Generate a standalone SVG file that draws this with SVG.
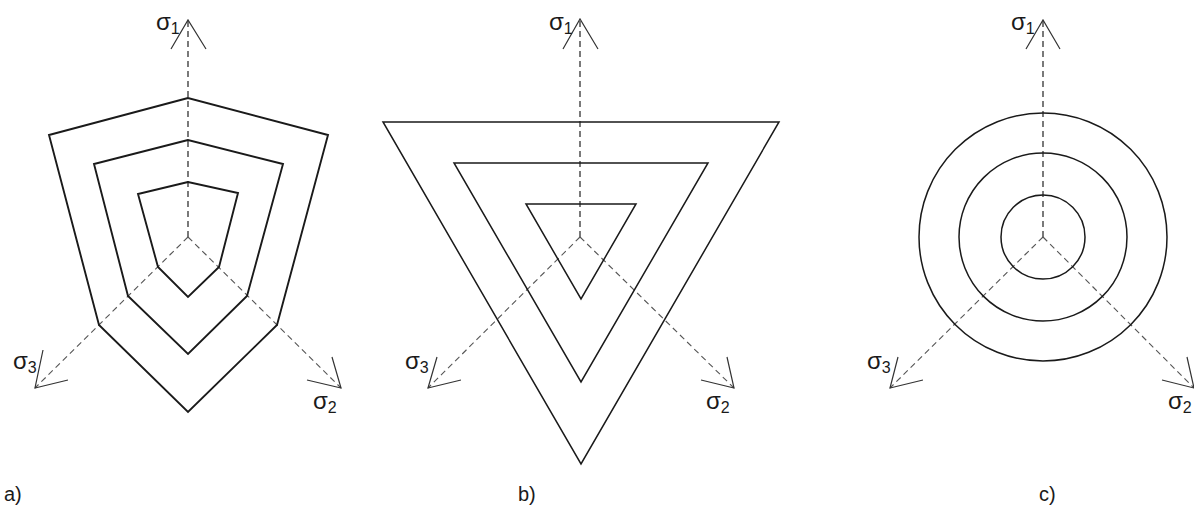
<svg xmlns="http://www.w3.org/2000/svg" width="1194" height="512" viewBox="0 0 1194 512">
<style>
.shape{fill:none;stroke:#1a1a1a;stroke-width:1.5;stroke-linejoin:miter}
.thick{stroke-width:1.9}
.ax1{fill:none;stroke:#222;stroke-width:1.2;stroke-dasharray:6 4}
.ax2{fill:none;stroke:#555;stroke-width:1.1;stroke-dasharray:6 4}
.head{fill:none;stroke:#333;stroke-width:1.2}
.sig{font-family:"Liberation Sans",Arial,sans-serif;font-size:24px;fill:#1a1a1a}
.sub{font-family:"Liberation Sans",Arial,sans-serif;font-size:16px;fill:#1a1a1a}
.cap{font-family:"Liberation Sans",Arial,sans-serif;font-size:20px;fill:#1a1a1a}
</style>
<rect width="1194" height="512" fill="#fff"/>
<g id="connectors">
  <line class="ax1" x1="188" y1="237" x2="188" y2="20"/>
  <line class="ax2" x1="188" y1="237" x2="35" y2="388"/>
  <line class="ax2" x1="188" y1="237" x2="341" y2="388"/>
  <polyline class="head" points="171,49 188,20 206,49"/>
  <polyline class="head" points="43,350 35,388 68,380"/>
  <polyline class="head" points="332,357 341,388 307,380"/>
  <line class="ax1" x1="580" y1="237" x2="580" y2="19"/>
  <line class="ax2" x1="580" y1="237" x2="428" y2="388"/>
  <line class="ax2" x1="580" y1="237" x2="734" y2="388"/>
  <polyline class="head" points="563,49 580,19 598,49"/>
  <polyline class="head" points="437,357 428,388 461,380"/>
  <polyline class="head" points="727,357 734,388 701,380"/>
  <line class="ax1" x1="1043" y1="237" x2="1043" y2="20"/>
  <line class="ax2" x1="1043" y1="237" x2="890" y2="388"/>
  <line class="ax2" x1="1043" y1="237" x2="1194" y2="388"/>
  <polyline class="head" points="1026,49 1043,20 1060,49"/>
  <polyline class="head" points="898,357 890,388 923,380"/>
  <polyline class="head" points="1187,357 1194,388 1162,380"/>
</g>
<g id="panel-a">
  <polygon class="shape thick" points="188,98 49,135 99,325 188,412 277,325 328,135"/>
  <polygon class="shape thick" points="188,140 94,164 128,296 188,354 247,296 283,164"/>
  <polygon class="shape thick" points="188,182 138,194 158,267 188,297 219,267 238,193"/>
  <text class="sig" x="156" y="30">σ<tspan class="sub" dy="4">1</tspan></text>
  <text class="sig" x="13" y="369">σ<tspan class="sub" dy="4">3</tspan></text>
  <text class="sig" x="313" y="409">σ<tspan class="sub" dy="4">2</tspan></text>
  <text class="cap" x="4" y="501">a)</text>
</g>
<g id="panel-b">
  <polygon class="shape" points="383,122 779,122 581,464"/>
  <polygon class="shape" points="454,163 708,163 581,382"/>
  <polygon class="shape" points="526,204 636,204 581,299"/>
  <text class="sig" x="549" y="30">σ<tspan class="sub" dy="4">1</tspan></text>
  <text class="sig" x="405" y="369">σ<tspan class="sub" dy="4">3</tspan></text>
  <text class="sig" x="706" y="409">σ<tspan class="sub" dy="4">2</tspan></text>
  <text class="cap" x="518" y="501">b)</text>
</g>
<g id="panel-c">
  <circle class="shape" cx="1043" cy="237" r="124"/>
  <circle class="shape" cx="1043" cy="237" r="84"/>
  <circle class="shape" cx="1043" cy="237" r="42"/>
  <text class="sig" x="1011" y="30">σ<tspan class="sub" dy="4">1</tspan></text>
  <text class="sig" x="867" y="369">σ<tspan class="sub" dy="4">3</tspan></text>
  <text class="sig" x="1168" y="409">σ<tspan class="sub" dy="4">2</tspan></text>
  <text class="cap" x="1039" y="501">c)</text>
</g>
</svg>
